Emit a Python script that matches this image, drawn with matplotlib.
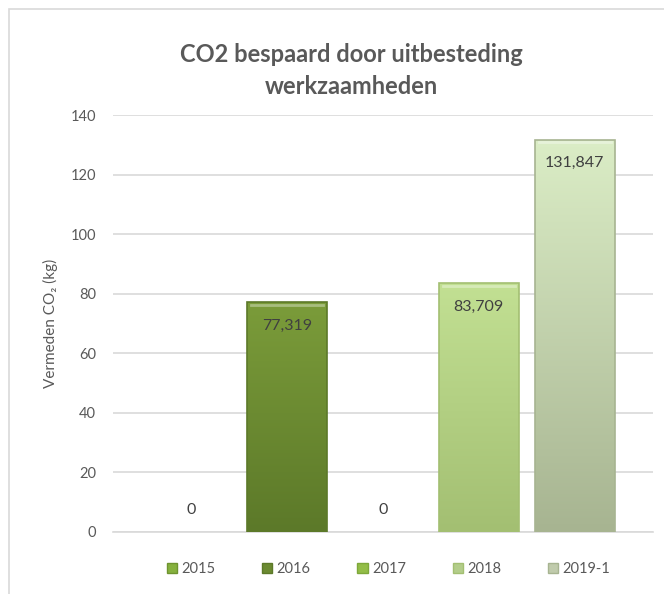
import numpy as np
import matplotlib.pyplot as plt
from matplotlib.patches import Rectangle
from matplotlib.colors import LinearSegmentedColormap

plt.rcParams['font.family'] = ['Lato', 'DejaVu Sans']

# data
years = ['2015', '2016', '2017', '2018', '2019-1']
values = [0, 77.319, 0, 83.709, 131.847]
labels = ['0', '77,319', '0', '83,709', '131,847']
# gradient colours per bar (top, bottom)
top_colors = ['#8fbb45', '#7b9c3a', '#9cc64e', '#c2e093', '#dbedc6']
bottom_colors = ['#6f9430', '#5c7929', '#7ea83a', '#a3bf72', '#a7b491']

fig = plt.figure(figsize=(6.64, 5.94), dpi=100)
ax = fig.add_axes([0.170, 0.1044, 0.813, 0.7016])

# chart area border
fig.patches.append(Rectangle((9 / 664, -0.05), 1.1, 1 - 9 / 594 + 0.05, transform=fig.transFigure,
                             fill=False, edgecolor='#d9d9d9', linewidth=1.2))

x = np.arange(len(years))
width = 0.83
bars = ax.bar(x, values, width=width, color=top_colors, edgecolor='none', zorder=2)

# vertical gradient on each bar
for b, c1, c2 in zip(bars, top_colors, bottom_colors):
    h = b.get_height()
    if h <= 0:
        continue
    cmap = LinearSegmentedColormap.from_list('g', [c2, c1])
    grad = np.linspace(0, 1, 256).reshape(-1, 1)
    im = ax.imshow(grad, cmap=cmap, aspect='auto', origin='lower',
                   extent=[b.get_x(), b.get_x() + b.get_width(), 0, h], zorder=3)
    im.set_clip_path(b)
    # bevel edges
    ax.add_patch(Rectangle((b.get_x(), 0), b.get_width(), h, fill=False,
                           edgecolor=c2, linewidth=1.2, zorder=4))
    ax.plot([b.get_x() + 0.04, b.get_x() + b.get_width() - 0.04], [h - 1.0, h - 1.0],
            color='white', alpha=0.35, linewidth=2, zorder=4)

# data labels
for xi, v, lab in zip(x, values, labels):
    off = -17 if v > 0 else 16
    ax.annotate(lab, (xi, v), xytext=(0, off), textcoords='offset points',
                ha='center', va='center', fontsize=11.5, color='#404040', zorder=5)

ax.set_xlim(-0.8125, 4.8125)
ax.set_ylim(0, 140)
ax.set_yticks(range(0, 141, 20))
ax.set_xticks([])
ax.grid(axis='y', color='#d9d9d9', linewidth=1.2, zorder=0)
ax.set_axisbelow(True)
for s in ['top', 'right', 'left']:
    ax.spines[s].set_visible(False)
ax.spines['bottom'].set_color('#d9d9d9')
ax.spines['bottom'].set_linewidth(1.2)
ax.tick_params(axis='y', length=0, pad=12, labelsize=10.5, labelcolor='#595959')
ax.set_ylabel('Vermeden CO₂ (kg)', fontsize=11, color='#595959', labelpad=9)

fig.text(351 / 664, 1 - 55 / 594, 'CO2 bespaard door uitbesteding', ha='center', va='center',
         fontsize=17, fontweight='bold', color='#595959')
fig.text(351 / 664, 1 - 87 / 594, 'werkzaamheden', ha='center', va='center',
         fontsize=17, fontweight='bold', color='#595959')

# legend
handles = [Rectangle((0, 0), 1, 1, facecolor=c, edgecolor=c2) for c, c2 in zip(
    ['#86b13e', '#6b8a31', '#93bd47', '#b3cd8a', '#c0cbac'], bottom_colors)]
fig.legend(handles, years, loc='center', bbox_to_anchor=(0.585, 1 - 569 / 594), ncol=5,
           frameon=False, fontsize=10.5, labelcolor='#595959', handlelength=0.7,
           handleheight=0.7, handletextpad=0.3, columnspacing=3.2)

fig.savefig('out.png', dpi=100)
